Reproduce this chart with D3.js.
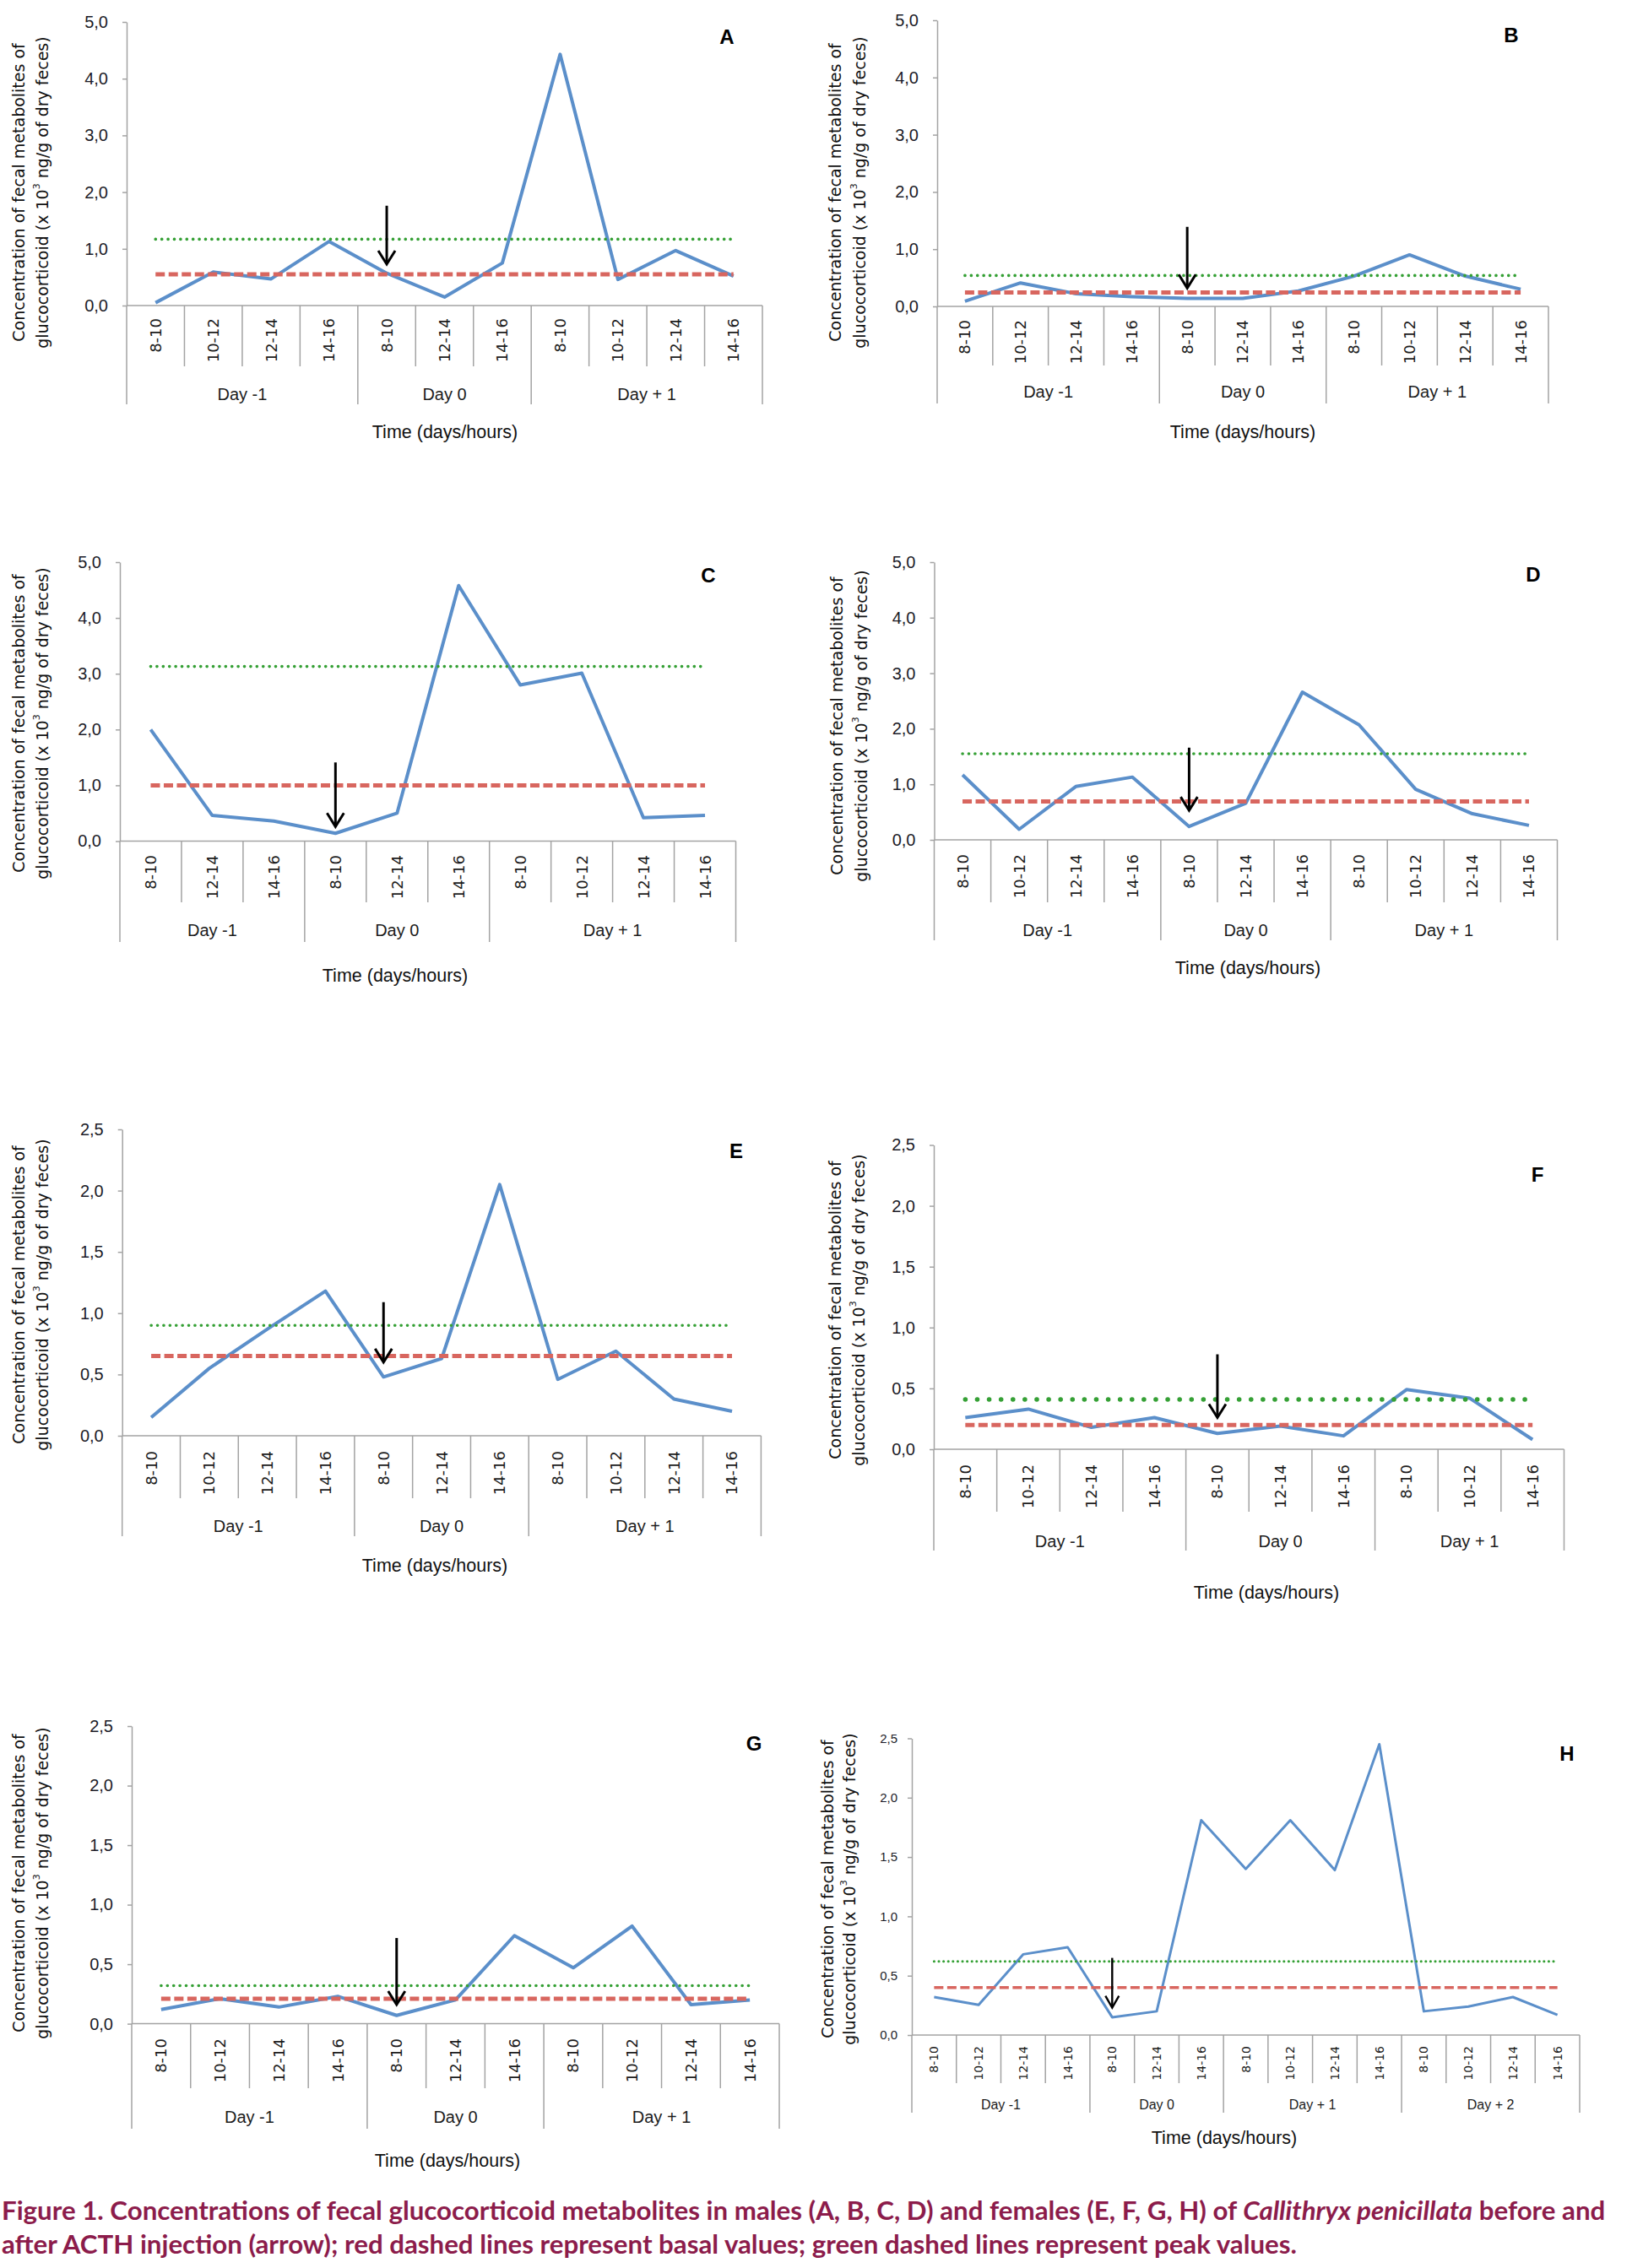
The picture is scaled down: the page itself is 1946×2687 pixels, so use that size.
<!DOCTYPE html>
<html>
<head>
<meta charset="utf-8">
<script src="https://cdn.jsdelivr.net/npm/d3@7"></script>
<style>
  body { margin: 0; background: #fff; }
  svg { display: block; }
</style>
</head>
<body>
<script>
// hour slots on the category axis (three panel layouts share most of them)
var hours11 = ['8-10', '10-12', '12-14', '14-16', '8-10', '12-14', '14-16', '8-10', '10-12', '12-14', '14-16'];
var days11 = ['Day -1', 'Day -1', 'Day -1', 'Day -1', 'Day 0', 'Day 0', 'Day 0', 'Day + 1', 'Day + 1', 'Day + 1', 'Day + 1'];
var hoursC = ['8-10', '12-14', '14-16', '8-10', '12-14', '14-16', '8-10', '10-12', '12-14', '14-16'];
var daysC = ['Day -1', 'Day -1', 'Day -1', 'Day 0', 'Day 0', 'Day 0', 'Day + 1', 'Day + 1', 'Day + 1', 'Day + 1'];
var hoursF = ['8-10', '10-12', '12-14', '14-16', '8-10', '12-14', '14-16', '8-10', '10-12', '14-16'];
var daysF = ['Day -1', 'Day -1', 'Day -1', 'Day -1', 'Day 0', 'Day 0', 'Day 0', 'Day + 1', 'Day + 1', 'Day + 1'];
var hoursH = ['8-10', '10-12', '12-14', '14-16', '8-10', '12-14', '14-16', '8-10', '10-12', '12-14', '14-16', '8-10', '10-12', '12-14', '14-16'];
var daysH = ['Day -1', 'Day -1', 'Day -1', 'Day -1', 'Day 0', 'Day 0', 'Day 0', 'Day + 1', 'Day + 1', 'Day + 1', 'Day + 1', 'Day + 2', 'Day + 2', 'Day + 2', 'Day + 2'];

// concentrations (x 10^3 ng/g of dry feces)
var valuesA = [0.05, 0.59, 0.47, 1.13, 0.57, 0.15, 0.75, 4.43, 0.46, 0.97, 0.52];
var valuesB = [0.09, 0.41, 0.22, 0.17, 0.14, 0.14, 0.27, 0.53, 0.90, 0.53, 0.30];
var valuesC = [2.00, 0.46, 0.36, 0.14, 0.50, 4.58, 2.80, 3.01, 0.42, 0.46];
var valuesD = [1.17, 0.19, 0.96, 1.13, 0.24, 0.66, 2.66, 2.07, 0.91, 0.47, 0.26];
var valuesE = [0.15, 0.55, 0.87, 1.18, 0.48, 0.63, 2.05, 0.46, 0.69, 0.30, 0.20];
var valuesF = [0.26, 0.33, 0.18, 0.26, 0.13, 0.19, 0.11, 0.49, 0.42, 0.08];
var valuesG = [0.12, 0.21, 0.14, 0.23, 0.07, 0.20, 0.74, 0.47, 0.82, 0.16, 0.20];
var valuesH = [0.32, 0.255, 0.68, 0.74, 0.15, 0.20, 1.81, 1.40, 1.81, 1.39, 2.45, 0.20, 0.24, 0.32, 0.17];

// basal (red) and peak (green) reference values, A..H
var basal = [0.55, 0.245, 1.0, 0.69, 0.65, 0.20, 0.21, 0.40];
var peak = [1.17, 0.54, 3.13, 1.55, 0.90, 0.41, 0.32, 0.62];

var sans = "'Liberation Sans', Arial, sans-serif";
var verdana = "'DejaVu Sans', Verdana, sans-serif";
var axisColor = '#a3a3a3';
var blue = '#5b8fca';
var red = '#d8665f';
var green = '#35a035';

var svg = d3.select('body')
  .append('svg')
  .attr('width', 1946)
  .attr('height', 2687);

// panel layouts: plot box, rows of the category table, labels
var panels = [
  {name: 'A', hours: hours11, days: days11, values: valuesA, x0: 150, x1: 903, yTop: 26, y0: 362, yMax: 5, step: 1,
    hourTop: 377, hourBottom: 434, dayBottom: 479, dayY: 467, tx: 527, ty: 512, lx: 861, ly: 43,
    t1x: 22, t2x: 50, tcy: 228, arrowAt: 4, arrowTop: 1.76, arrowTip: 0.73},
  {name: 'B', hours: hours11, days: days11, values: valuesB, x0: 1110, x1: 1834, yTop: 24, y0: 363, yMax: 5, step: 1,
    hourTop: 379, hourBottom: 433, dayBottom: 478, dayY: 464, tx: 1472, ty: 512, lx: 1790, ly: 41,
    t1x: 989, t2x: 1018, tcy: 228, arrowAt: 4, arrowTop: 1.39, arrowTip: 0.32},
  {name: 'C', hours: hoursC, days: daysC, values: valuesC, x0: 142, x1: 871.5, yTop: 666, y0: 996.5, yMax: 5, step: 1,
    hourTop: 1013, hourBottom: 1069, dayBottom: 1116, dayY: 1102, tx: 468, ty: 1156, lx: 839, ly: 681,
    t1x: 22, t2x: 50, tcy: 857, arrowAt: 3, arrowTop: 1.41, arrowTip: 0.26},
  {name: 'D', hours: hours11, days: days11, values: valuesD, x0: 1106.5, x1: 1844.5, yTop: 666, y0: 995, yMax: 5, step: 1,
    hourTop: 1012, hourBottom: 1069, dayBottom: 1114, dayY: 1102, tx: 1478, ty: 1147, lx: 1816, ly: 680,
    t1x: 990.5, t2x: 1019.5, tcy: 860, arrowAt: 4, arrowTop: 1.66, arrowTip: 0.53},
  {name: 'E', hours: hours11, days: days11, values: valuesE, x0: 144.7, x1: 901.4, yTop: 1338, y0: 1701, yMax: 2.5, step: 0.5,
    hourTop: 1719, hourBottom: 1775, dayBottom: 1820, dayY: 1808, tx: 515, ty: 1855, lx: 872, ly: 1363,
    t1x: 22, t2x: 50, tcy: 1534, arrowAt: 4, arrowTop: 1.09, arrowTip: 0.60},
  {name: 'F', hours: hoursF, days: daysF, values: valuesF, x0: 1106, x1: 1852.5, yTop: 1356.5, y0: 1717, yMax: 2.5, step: 0.5,
    hourTop: 1735, hourBottom: 1791, dayBottom: 1837, dayY: 1826, tx: 1500, ty: 1887, lx: 1821, ly: 1391,
    t1x: 989, t2x: 1017, tcy: 1552, arrowAt: 4, arrowTop: 0.78, arrowTip: 0.26, dotW: 5.5, dotGap: 14},
  {name: 'G', hours: hours11, days: days11, values: valuesG, x0: 156, x1: 923, yTop: 2045, y0: 2397.6, yMax: 2.5, step: 0.5,
    hourTop: 2415, hourBottom: 2474, dayBottom: 2522, dayY: 2508, tx: 530, ty: 2560, lx: 893, ly: 2065,
    t1x: 22, t2x: 50, tcy: 2231, arrowAt: 4, arrowTop: 0.72, arrowTip: 0.16},
  {name: 'H', hours: hoursH, days: daysH, values: valuesH, x0: 1080, x1: 1871, yTop: 2059.5, y0: 2411, yMax: 2.5, step: 0.5,
    hourTop: 2424, hourBottom: 2468, dayBottom: 2503, dayY: 2493, tx: 1450, ty: 2533, lx: 1856, ly: 2077,
    t1x: 980, t2x: 1006, tcy: 2238, arrowAt: 4, arrowTop: 0.65, arrowTip: 0.23,
    fsHour: 14, fsY: 15, fsDay: 16, pad: 12, lineW: 3, redW: 3.5, dotW: 3, dotGap: 5.5, arrowW: 2.4}
];

panels.forEach(function(p, k) {
  var g = svg.append('g');
  var n = p.hours.length;

  var x = d3.scaleBand().domain(d3.range(n)).range([p.x0, p.x1]);
  var cx = function(i) { return x(i) + x.bandwidth() / 2; };
  var y = d3.scaleLinear().domain([0, p.yMax]).range([p.y0, p.yTop]);

  // y axis with comma decimals
  var yAxis = d3.axisLeft(y)
    .tickValues(d3.range(0, p.yMax + 1e-9, p.step))
    .tickFormat(function(d) { return d3.format('.1f')(d).replace('.', ','); })
    .tickSize(5)
    .tickSizeOuter(0)
    .tickPadding(p.pad || 17);
  var ga = g.append('g').attr('transform', 'translate(' + p.x0 + ',0)').call(yAxis);
  ga.select('.domain').attr('stroke', axisColor).attr('stroke-width', 1.5);
  ga.selectAll('.tick line').attr('stroke', axisColor).attr('stroke-width', 1.5);
  ga.selectAll('.tick text')
    .attr('font-family', sans)
    .attr('font-size', p.fsY || 20)
    .attr('fill', '#1c1c28');

  // category table: x axis line, separators
  g.append('line')
    .attr('x1', p.x0).attr('x2', p.x1).attr('y1', p.y0).attr('y2', p.y0)
    .attr('stroke', axisColor).attr('stroke-width', 1.5);

  var edges = d3.range(n + 1).map(function(i) {
    var dayEdge = i === 0 || i === n || p.days[i] !== p.days[i - 1];
    return {x: i < n ? x(i) : p.x1, day: dayEdge};
  });
  g.selectAll('line.sep')
    .data(edges)
    .enter()
    .append('line')
    .attr('x1', function(d) { return d.x; })
    .attr('x2', function(d) { return d.x; })
    .attr('y1', p.y0)
    .attr('y2', function(d) { return d.day ? p.dayBottom : p.hourBottom; })
    .attr('stroke', axisColor)
    .attr('stroke-width', 1.5);

  // hour labels, rotated
  g.selectAll('text.hour')
    .data(p.hours)
    .enter()
    .append('text')
    .attr('transform', function(d, i) { return 'translate(' + cx(i) + ',' + p.hourTop + ') rotate(-90)'; })
    .attr('text-anchor', 'end')
    .attr('dy', '0.36em')
    .attr('font-family', verdana)
    .attr('font-size', p.fsHour || 18)
    .attr('fill', '#1c1c1c')
    .text(function(d) { return d; });

  // day groups
  var groups = [];
  p.days.forEach(function(d, i) {
    if (i === 0 || d !== p.days[i - 1]) groups.push({label: d, start: i, end: i});
    else groups[groups.length - 1].end = i;
  });
  g.selectAll('text.day')
    .data(groups)
    .enter()
    .append('text')
    .attr('x', function(d) { return (x(d.start) + x(d.end) + x.bandwidth()) / 2; })
    .attr('y', p.dayY)
    .attr('text-anchor', 'middle')
    .attr('dominant-baseline', 'central')
    .attr('font-family', sans)
    .attr('font-size', p.fsDay || 20)
    .attr('fill', '#1c1c1c')
    .text(function(d) { return d.label; });

  // series line
  var line = d3.line()
    .x(function(d, i) { return cx(i); })
    .y(function(d) { return y(d); });
  g.append('path')
    .datum(p.values)
    .attr('d', line)
    .attr('fill', 'none')
    .attr('stroke', blue)
    .attr('stroke-width', p.lineW || 4)
    .attr('stroke-linejoin', 'round');

  // basal (red dashed) and peak (green dotted)
  g.append('line')
    .attr('x1', cx(0)).attr('x2', cx(n - 1))
    .attr('y1', y(basal[k])).attr('y2', y(basal[k]))
    .attr('stroke', red)
    .attr('stroke-width', p.redW || 5)
    .attr('stroke-dasharray', '11,4.5');
  g.append('line')
    .attr('x1', cx(0)).attr('x2', cx(n - 1))
    .attr('y1', y(peak[k])).attr('y2', y(peak[k]))
    .attr('stroke', green)
    .attr('stroke-width', p.dotW || 3.6)
    .attr('stroke-linecap', 'round')
    .attr('stroke-dasharray', '0.1,' + (p.dotGap || 7.3));

  // ACTH injection arrow
  var ax = cx(p.arrowAt);
  var tip = y(p.arrowTip);
  var hw = p.name === 'H' ? 8 : 10;
  var hh = p.name === 'H' ? 14 : 16;
  g.append('line')
    .attr('x1', ax).attr('x2', ax)
    .attr('y1', y(p.arrowTop)).attr('y2', tip - 1)
    .attr('stroke', '#000')
    .attr('stroke-width', p.arrowW || 3);
  g.append('path')
    .attr('d', 'M' + (ax - hw) + ',' + (tip - hh) + 'L' + ax + ',' + tip + 'L' + (ax + hw) + ',' + (tip - hh))
    .attr('fill', 'none')
    .attr('stroke', '#000')
    .attr('stroke-width', p.arrowW || 3);

  // panel letter
  g.append('text')
    .attr('x', p.lx).attr('y', p.ly)
    .attr('text-anchor', 'middle')
    .attr('dominant-baseline', 'central')
    .attr('font-family', sans)
    .attr('font-weight', 'bold')
    .attr('font-size', 24)
    .text(p.name);

  // x axis title
  g.append('text')
    .attr('x', p.tx).attr('y', p.ty)
    .attr('text-anchor', 'middle')
    .attr('dominant-baseline', 'central')
    .attr('font-family', sans)
    .attr('font-size', 21.5)
    .attr('fill', '#111')
    .text('Time (days/hours)');

  // y axis title, two rotated lines
  g.append('text')
    .attr('transform', 'translate(' + p.t1x + ',' + p.tcy + ') rotate(-90)')
    .attr('text-anchor', 'middle')
    .attr('dominant-baseline', 'central')
    .attr('font-family', verdana)
    .attr('font-size', 19)
    .attr('fill', '#111')
    .text('Concentration of fecal metabolites of');
  var t2 = g.append('text')
    .attr('transform', 'translate(' + p.t2x + ',' + p.tcy + ') rotate(-90)')
    .attr('text-anchor', 'middle')
    .attr('dominant-baseline', 'central')
    .attr('font-family', verdana)
    .attr('font-size', 19)
    .attr('fill', '#111');
  t2.append('tspan').text('glucocorticoid (x 10');
  t2.append('tspan').attr('font-size', 11).attr('dy', -7).text('3');
  t2.append('tspan').attr('dy', 7).text(' ng/g of dry feces)');
});

// caption
var cap = svg.append('g')
  .attr('font-family', "Lato, 'Open Sans', sans-serif")
  .attr('font-weight', 'bold')
  .attr('fill', '#8c1c4b');
var cap1 = cap.append('text').attr('x', 2).attr('y', 2630).attr('font-size', 30);
cap1.append('tspan').text('Figure 1. Concentrations of fecal glucocorticoid metabolites in males (A, B, C, D) and females (E, F, G, H) of ');
cap1.append('tspan').attr('font-style', 'italic').text('Callithryx penicillata');
cap1.append('tspan').text(' before and');
var cap2 = cap.append('text').attr('x', 2).attr('y', 2670).attr('font-size', 30)
  .text('after ACTH injection (arrow); red dashed lines represent basal values; green dashed lines represent peak values.');

// fit caption width to the figure
var w1 = cap1.node().getComputedTextLength();
var fs = 30 * 1900 / w1;
cap1.attr('font-size', fs);
cap2.attr('font-size', fs);
</script>
</body>
</html>
